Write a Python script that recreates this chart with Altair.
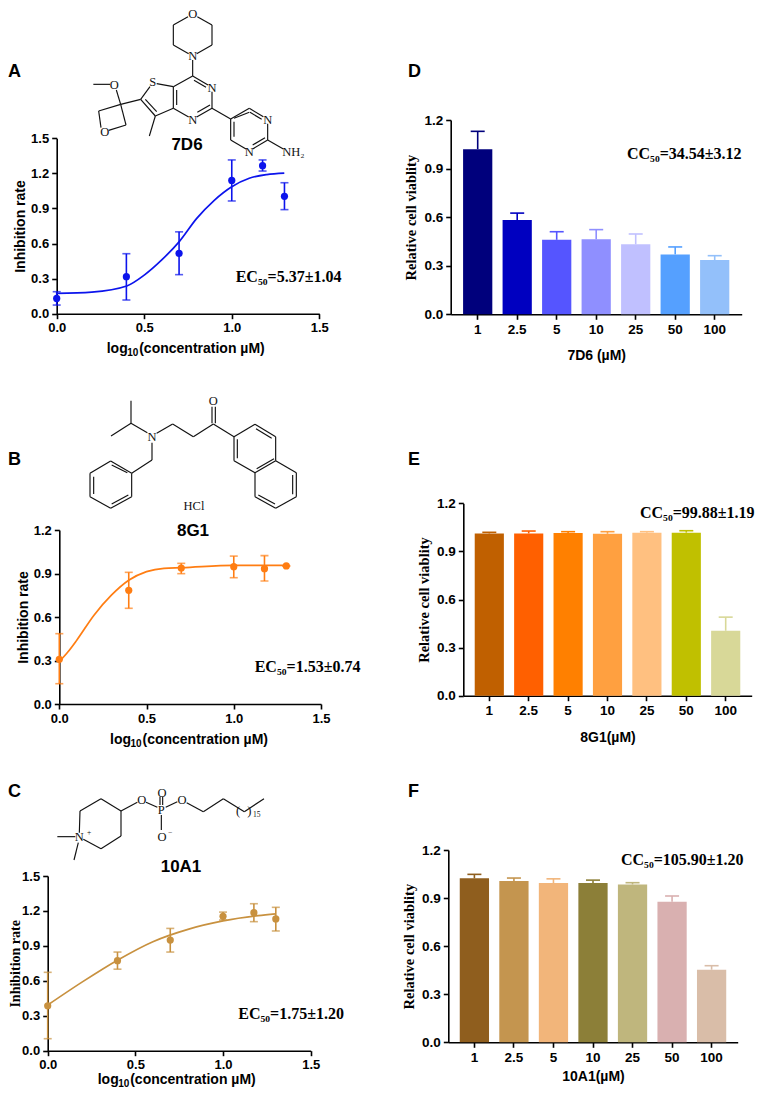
import altair as alt
import pandas as pd

W, H = 749, 1080
SANS = "Liberation Sans"
SERIF = "Liberation Serif"

# ---------- dose-response data ----------
log_conc = [0.0, 0.398, 0.699, 1.0, 1.176, 1.301]

a_y = [0.131, 0.317, 0.516, 1.14, 1.266, 1.004]
a_lo = [0.074, 0.117, 0.334, 0.964, 1.22, 0.89]
a_hi = [0.188, 0.513, 0.70, 1.315, 1.315, 1.12]
a_fit_x = [0.0, 0.2, 0.4, 0.5, 0.6, 0.7, 0.8, 0.9, 1.0, 1.1, 1.2, 1.3]
a_fit_y = [0.174, 0.185, 0.237, 0.33, 0.46, 0.616, 0.815, 0.97, 1.086, 1.158, 1.19, 1.203]

b_y = [0.308, 0.784, 0.938, 0.947, 0.933, 0.952]
b_lo = [0.14, 0.66, 0.899, 0.871, 0.848, 0.952]
b_hi = [0.485, 0.908, 0.97, 1.02, 1.023, 0.952]
b_fit_x = [0.0, 0.05, 0.1, 0.2, 0.3, 0.4, 0.5, 0.6, 0.7, 1.0, 1.3]
b_fit_y = [0.292, 0.36, 0.44, 0.614, 0.752, 0.855, 0.913, 0.936, 0.94, 0.956, 0.956]

c_y = [0.386, 0.773, 0.95, 1.154, 1.185, 1.131]
c_lo = [0.103, 0.70, 0.847, 1.122, 1.108, 1.028]
c_hi = [0.673, 0.847, 1.05, 1.19, 1.262, 1.231]
c_fit_x = [0.0, 0.2, 0.4, 0.6, 0.8, 1.0, 1.2, 1.3]
c_fit_y = [0.392, 0.593, 0.779, 0.936, 1.042, 1.114, 1.159, 1.174]

# ---------- viability data ----------
doses = ["1", "2.5", "5", "10", "25", "50", "100"]

d_val = [1.02, 0.582, 0.46, 0.463, 0.432, 0.37, 0.335]
d_err = [1.13, 0.625, 0.51, 0.523, 0.496, 0.416, 0.362]
d_col = ["#00007c", "#0000c0", "#5555ff", "#8f8fff", "#c0c0ff", "#55a0ff", "#93c0fa"]

e_val = [1.012, 1.012, 1.015, 1.01, 1.017, 1.017, 0.405]
e_err = [1.019, 1.027, 1.023, 1.023, 1.023, 1.029, 0.49]
e_col = ["#c06000", "#ff6000", "#ff8000", "#ffa040", "#ffc080", "#c0c000", "#d8d898"]

f_val = [1.023, 1.006, 0.994, 0.994, 0.985, 0.877, 0.453]
f_err = [1.048, 1.025, 1.02, 1.012, 0.996, 0.913, 0.478]
f_col = ["#8f5e1e", "#c4954f", "#f2b57a", "#8c7f38", "#bfb67d", "#d9b0b0", "#d9bda8"]

# ---------- molecule drawings: bonds as (x1, y1, x2, y2), atoms as (x, y, label) ----------
mol_a_bonds = [
    (592,35,636,60),(636,60,636,120),(636,120,590,146),(566,146,520,120),(520,120,520,60),(520,60,564,35),
    (578,165,578,213),(578,213,624,240),(582,226,618,247),(636,260,636,310),(636,310,590,336),(630,300,592,322),
    (566,336,520,310),(520,310,520,245),(530,300,530,255),(520,245,578,213),(520,245,470,236),(450,245,422,283),
    (422,283,466,333),(436,283,470,320),(466,333,520,310),(466,333,448,393),(362,298,422,283),(362,298,349,255),
    (330,238,280,238),(362,298,296,318),(296,318,303,368),(326,376,378,360),(378,360,362,298),
    (636,310,692,342),(692,342,748,310),(702,340,748,322),(748,310,790,335),(750,322,785,343),(803,356,803,405),
    (803,405,758,432),(795,398,758,420),(738,432,692,405),(692,405,692,342),(702,395,702,350),(803,405,850,432),
]
mol_a_atoms = [(578,27,"O"),(578,153,"N"),(636,248,"N"),(578,344,"N"),(458,232,"S"),(343,240,"O"),
               (314,380,"O"),(803,344,"N"),(748,440,"N"),(880,441,"NH₂")]

mol_b_bonds = [
    (393,62,393,130),(393,130,333,168),(393,130,442,158),(470,160,518,132),(518,132,580,170),(580,170,640,132),
    (636,130,636,80),(646,130,646,80),(640,132,702,170),(702,170,765,133),(765,133,827,170),(827,170,827,242),
    (827,242,765,278),(765,278,702,242),(702,242,702,170),(712,178,712,235),(768,146,815,175),(822,236,770,266),
    (827,242,889,278),(889,278,889,350),(889,350,827,385),(827,385,765,350),(765,350,765,278),(878,285,878,343),
    (825,372,775,345),(456,188,456,240),(456,240,395,280),(395,280,395,350),(395,350,332,385),(332,385,270,350),
    (270,350,270,280),(270,280,332,243),(332,243,395,280),(382,278,335,255),(385,345,335,372),(281,290,281,342),
]
mol_b_atoms = [(456,172,"N"),(640,63,"O"),(582,378,"HCl")]

mol_c_bonds = [
    (238,248,240,183),(240,183,303,146),(303,146,363,183),(363,183,363,258),(363,258,303,296),(303,296,250,268),
    (226,260,172,260),(235,278,222,330),(363,183,412,157),(438,157,472,172),(480,165,480,140),(488,165,488,140),
    (484,195,484,240),(497,172,532,155),(560,158,610,185),(610,185,670,146),(670,146,733,185),(733,185,792,146),
]
mol_c_atoms = [(238,262,"N"),(425,150,"O"),(484,180,"P"),(486,128,"O"),(486,262,"O"),(546,150,"O"),
               (714,182,"("),(748,182,")")]
mol_c_small = [(267,248,"+"),(510,248,"−"),(770,196,"15")]


def page_x(v):
    return v - 8


def page_y(v):
    return v - 8


def num_scale(domain, lo, hi):
    return alt.Scale(domain=domain, range=[lo, hi], nice=False, zero=False)


def axis_style(size, title_font, title_pad, title_size=None, **kw):
    return alt.Axis(
        grid=False, domainColor="black", tickColor="black", domainWidth=1.6, tickWidth=1.6, tickSize=5,
        labelFont=SANS, labelFontWeight="bold", labelFontSize=size, labelColor="black", labelPadding=3,
        labelOverlap=False, labelFlush=False,
        titleFont=title_font, titleFontWeight="bold",
        titleFontSize=title_size or (14.5 if title_font == SERIF else 14),
        titleColor="black", titlePadding=title_pad, **kw)


def annotate(text, x, y, font=SANS, size=14, align="left", baseline="alphabetic", color="black", weight="bold"):
    return alt.Chart(pd.DataFrame({"t": [text]})).mark_text(
        font=font, fontSize=size, fontWeight=weight, align=align, baseline=baseline, color=color
    ).encode(x=alt.value(page_x(x)), y=alt.value(page_y(y)), text="t:N")


def curve_panel(ys, lo, hi, fit_x, fit_y, color, x0, x1, y_bot, y_top, ymax, yticks, ytitle, ytitle_font, tpad, tsize=None):
    sx = num_scale([0, 1.5], page_x(x0), page_x(x1))
    sy = num_scale([0, ymax], page_y(y_bot), page_y(y_top))
    pts = pd.DataFrame({"x": log_conc, "y": ys, "lo": lo, "hi": hi})
    fit = pd.DataFrame({"x": fit_x, "y": fit_y})
    xax = axis_style(13, SANS, 7, orient="bottom", offset=-(H - page_y(y_bot)), values=[0, 0.5, 1.0, 1.5],
                     format=".1f", title=None)
    yax = axis_style(13, ytitle_font, tpad, tsize, orient="left", offset=-page_x(x0), values=yticks, format=".1f",
                     title=ytitle)
    layers = [
        alt.Chart(fit).mark_line(color=color, strokeWidth=1.7, interpolate="monotone", clip=False).encode(
            x=alt.X("x:Q", scale=sx, axis=xax), y=alt.Y("y:Q", scale=sy, axis=yax)),
        alt.Chart(pts).mark_rule(color=color, strokeWidth=1.6).encode(
            x=alt.X("x:Q", scale=sx, axis=None), y=alt.Y("lo:Q", scale=sy, axis=None), y2="hi:Q"),
    ]
    for f in ("lo", "hi"):
        layers.append(alt.Chart(pts).mark_tick(color=color, size=8, thickness=1.6, orient="horizontal").encode(
            x=alt.X("x:Q", scale=sx, axis=None), y=alt.Y(f"{f}:Q", scale=sy, axis=None)))
    layers.append(alt.Chart(pts).mark_point(color=color, filled=True, size=52, opacity=1).encode(
        x=alt.X("x:Q", scale=sx, axis=None), y=alt.Y("y:Q", scale=sy, axis=None)))
    return layers


def bar_panel(vals, errs, cols, x0, x1, y_bot, y_top, xtitle, pad_outer, xpad=13):
    sx = alt.Scale(domain=doses, range=[page_x(x0), page_x(x1)], paddingInner=0.26, paddingOuter=pad_outer)
    sy = num_scale([0, 1.2], page_y(y_bot), page_y(y_top))
    df = pd.DataFrame({"dose": doses, "v": vals, "e": errs, "c": cols})
    xax = axis_style(13.5, SANS, xpad, orient="bottom", offset=-(H - page_y(y_bot)), labelAngle=0, title=xtitle)
    yax = axis_style(13.5, SERIF, 5, orient="left", offset=-page_x(x0), values=[0, 0.3, 0.6, 0.9, 1.2],
                     format=".1f", title="Relative cell viablity")
    col = alt.Color("c:N", scale=None, legend=None)
    return [
        alt.Chart(df).mark_rule(strokeWidth=1.6).encode(
            x=alt.X("dose:N", scale=sx, axis=None), y=alt.Y("v:Q", scale=sy, axis=None), y2="e:Q", color=col),
        alt.Chart(df).mark_tick(size=14, thickness=1.6, orient="horizontal", opacity=1).encode(
            x=alt.X("dose:N", scale=sx, axis=None), y=alt.Y("e:Q", scale=sy, axis=None), color=col),
        alt.Chart(df).mark_bar(opacity=1).encode(
            x=alt.X("dose:N", scale=sx, axis=xax, sort=None), y=alt.Y("v:Q", scale=sy, axis=yax), color=col),
    ]


def molecule(bonds, atoms, small, dy):
    mx = alt.Scale(domain=[8, 8 + W], range=[0, W], nice=False, zero=False)
    my = alt.Scale(domain=[8, 8 + H], range=[0, H], nice=False, zero=False)
    b = pd.DataFrame(bonds, columns=["a", "b", "c", "d"])
    b["x"], b["x2"] = b.a / 3, b.c / 3
    b["y"], b["y2"] = dy + b.b / 3, dy + b.d / 3
    out = [alt.Chart(b).mark_rule(color="#111111", strokeWidth=1.15).encode(
        x=alt.X("x:Q", scale=mx, axis=None), x2="x2:Q", y=alt.Y("y:Q", scale=my, axis=None), y2="y2:Q")]
    for rows, size in ((atoms, 12.5), (small, 7.5)):
        if not rows:
            continue
        t = pd.DataFrame(rows, columns=["a", "b", "t"])
        t["x"], t["y"] = t.a / 3, dy + t.b / 3
        out.append(alt.Chart(t).mark_text(font=SERIF, fontSize=size, color="#111111").encode(
            x=alt.X("x:Q", scale=mx, axis=None), y=alt.Y("y:Q", scale=my, axis=None), text="t:N"))
    return out


def log_title(x, y):
    return [annotate("log", x, y), annotate("10", x + 20.5, y + 3, size=10), annotate("(concentration µM)", x + 32.5, y)]


layers = []
layers += molecule(mol_a_bonds, mol_a_atoms, [], 5)
layers += molecule(mol_b_bonds, mol_b_atoms, [], 380)
layers += molecule(mol_c_bonds, mol_c_atoms, mol_c_small, 750)

ticks_15 = [0, 0.3, 0.6, 0.9, 1.2, 1.5]
ticks_12 = [0, 0.3, 0.6, 0.9, 1.2]
layers += curve_panel(a_y, a_lo, a_hi, a_fit_x, a_fit_y, "#0c14ec", 56.7, 319.3, 313.7, 138.3, 1.5, ticks_15,
                      "Inhibition rate", SANS, 3)
layers += curve_panel(b_y, b_lo, b_hi, b_fit_x, b_fit_y, "#ff7d12", 59.3, 321, 704, 530, 1.2, ticks_12,
                      "Inhibition rate", SANS, 3)
layers += curve_panel(c_y, c_lo, c_hi, c_fit_x, c_fit_y, "#c8913f", 47.7, 310.7, 1050.7, 876, 1.5, ticks_15,
                      "Inhibition rate", SERIF, -1, 14)
layers += bar_panel(d_val, d_err, d_col, 450.7, 741.7, 314.3, 120, "7D6 (µM)", 0.3135)
layers += bar_panel(e_val, e_err, e_col, 463.3, 751.7, 695.7, 503.3, "8G1(µM)", 0.29)
layers += bar_panel(f_val, f_err, f_col, 448.3, 737.7, 1042.3, 850, "10A1(µM)", 0.29, 6)

layers += log_title(106.7, 353.3) + log_title(110, 744) + log_title(97.7, 1084)
layers += [
    annotate("EC₅₀=5.37±1.04", 235.7, 281.7, SERIF, 16),
    annotate("EC₅₀=1.53±0.74", 254.7, 671.7, SERIF, 16),
    annotate("EC₅₀=1.75±1.20", 238.3, 1019.3, SERIF, 16),
    annotate("CC₅₀=34.54±3.12", 627, 159.3, SERIF, 16),
    annotate("CC₅₀=99.88±1.19", 640, 518.3, SERIF, 16),
    annotate("CC₅₀=105.90±1.20", 621, 865, SERIF, 16),
    annotate("7D6", 187, 150, SANS, 17, "center"),
    annotate("8G1", 193, 536, SANS, 17, "center"),
    annotate("10A1", 181, 872, SANS, 17, "center"),
    annotate("A", 8, 77, SANS, 18),
    annotate("B", 8, 465, SANS, 18),
    annotate("C", 8, 797, SANS, 18),
    annotate("D", 408, 77, SANS, 18),
    annotate("E", 408, 465, SANS, 18),
    annotate("F", 408, 797, SANS, 18),
]

chart = (
    alt.layer(*layers)
    .resolve_scale(x="independent", y="independent")
    .properties(width=W, height=H, padding=0, autosize=alt.AutoSizeParams(type="none"), background="white")
    .configure_view(stroke=None)
)

chart.save("out.html", embed_options={"renderer": "svg", "actions": False})
